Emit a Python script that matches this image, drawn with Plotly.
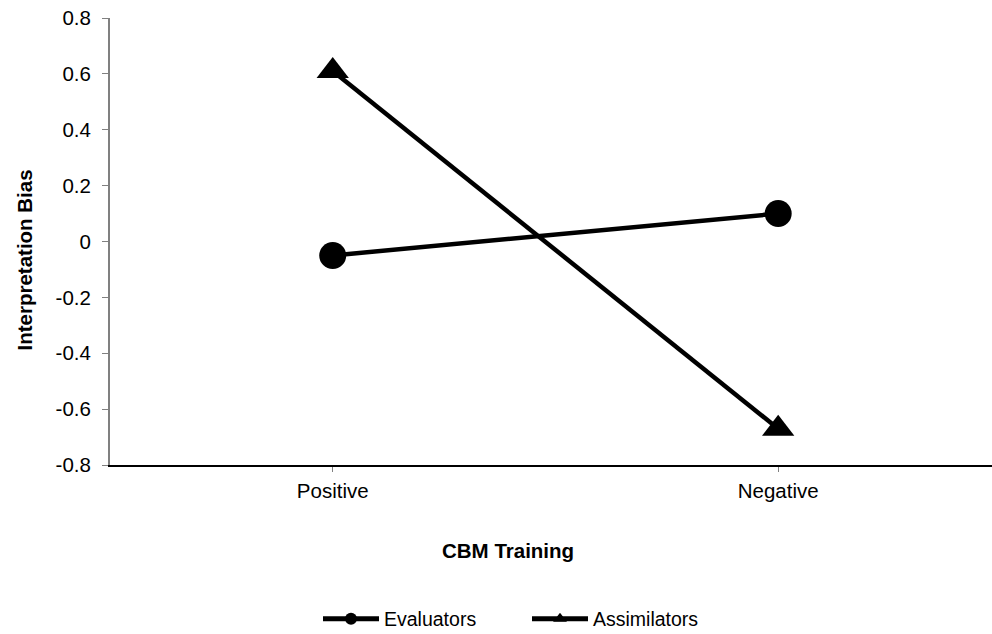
import plotly.graph_objects as go

categories = ["Positive", "Negative"]
evaluators = [-0.05, 0.10]
assimilators = [0.61, -0.67]
y_ticks = [-0.8, -0.6, -0.4, -0.2, 0, 0.2, 0.4, 0.6, 0.8]
y_tick_labels = ["-0.8", "-0.6", "-0.4", "-0.2", "0", "0.2", "0.4", "0.6", "0.8"]

W, H = 992, 634
ml, mr, mt, mb = 110, 0, 18, 169
pw = W - ml - mr
ph = H - mt - mb

def px_x(p):
    return (p - ml) / pw

def px_y(p):
    return (H - mb - p) / ph

font = "Liberation Sans, Arial, sans-serif"
fs = 20.5

fig = go.Figure()
fig.add_trace(go.Scatter(x=[0, 1], y=evaluators, mode="lines+markers",
                         line=dict(color="black", width=4.5),
                         marker=dict(symbol="circle", size=27, color="black"),
                         name="Evaluators", showlegend=False))
fig.add_trace(go.Scatter(x=[0, 1], y=assimilators, mode="lines+markers",
                         line=dict(color="black", width=4.5),
                         marker=dict(symbol="triangle-up", size=28, color="black"),
                         name="Assimilators", showlegend=False))
# legend entries
fig.add_trace(go.Scatter(x=[None], y=[None], mode="lines+markers",
                         line=dict(color="black", width=5),
                         marker=dict(symbol="circle", size=12, color="black"),
                         name="Evaluators"))
fig.add_trace(go.Scatter(x=[None], y=[None], mode="lines+markers",
                         line=dict(color="black", width=5),
                         marker=dict(symbol="triangle-up", size=12, color="black"),
                         name="Assimilators"))

fig.update_layout(
    width=W, height=H,
    margin=dict(l=ml, r=mr, t=mt, b=mb, pad=0, autoexpand=False),
    plot_bgcolor="white", paper_bgcolor="white",
    font=dict(family=font, size=fs, color="black"),
    showlegend=True,
    legend=dict(orientation="h", x=px_x(318), xanchor="left",
                y=px_y(619), yanchor="middle",
                font=dict(size=19.5), itemwidth=56,
                entrywidthmode="pixels", entrywidth=138,
                bgcolor="rgba(0,0,0,0)"),
    xaxis=dict(range=[-0.5, 1.48], tickvals=[0, 1], ticktext=categories,
               showline=True, linecolor="black", linewidth=1.5,
               ticks="outside", ticklen=5, tickcolor="#808080", tickwidth=1,
               showgrid=False, zeroline=False, ticklabelstandoff=2,
               automargin=False, tickfont=dict(size=fs)),
    yaxis=dict(range=[-0.8, 0.8], tickvals=y_ticks, ticktext=y_tick_labels,
               showline=True, linecolor="#808080", linewidth=2,
               ticks="outside", ticklen=6, tickcolor="#808080", tickwidth=1,
               showgrid=False, zeroline=False, ticklabelstandoff=7,
               automargin=False, tickfont=dict(size=fs)),
    annotations=[
        dict(text="<b>CBM Training</b>", xref="paper", yref="paper",
             x=px_x(508), y=px_y(550), xanchor="center", yanchor="middle",
             showarrow=False, font=dict(size=fs)),
        dict(text="<b>Interpretation Bias</b>", xref="paper", yref="paper",
             x=px_x(23.5), y=px_y(260), xanchor="center", yanchor="middle",
             textangle=-90, showarrow=False, font=dict(size=20.5)),
    ],
)

fig.write_html("out.html", config={"displayModeBar": False},
               post_script="document.body.style.margin='0';document.body.style.overflow='hidden';")
